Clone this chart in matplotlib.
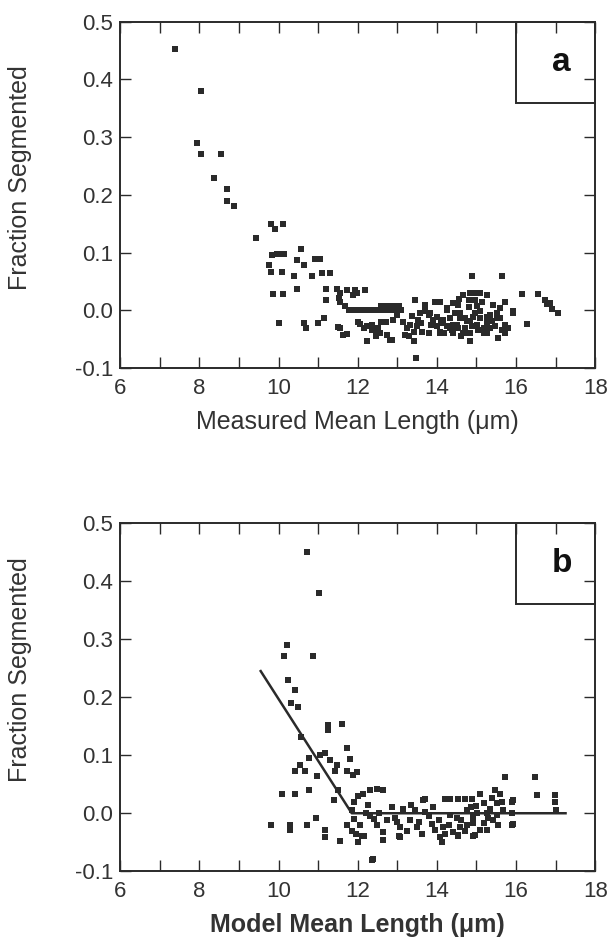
import matplotlib
matplotlib.use("Agg")
import matplotlib.pyplot as plt
from matplotlib.patches import Rectangle
from matplotlib.ticker import MultipleLocator

plt.rcParams['font.family'] = ['Liberation Sans', 'DejaVu Sans']

# ---------------- Panel a data (Measured mean length vs fraction segmented)
a_x = [7.38, 8.05, 7.94, 8.05, 8.55, 8.38, 8.71, 8.71, 8.87, 9.42,
       9.80, 9.91, 10.12, 10.57, 9.83, 9.95, 10.05, 10.15, 9.75, 9.80,
       10.08, 10.46, 10.65, 10.92, 11.05, 10.40, 10.84, 11.09, 11.29, 9.86,
       10.12, 10.46, 11.19, 11.19, 10.02, 10.65, 10.70, 11.00, 11.16,
       11.56, 11.72, 11.93, 12.19, 11.56, 11.68, 11.89, 11.98,
       11.77, 11.90, 12.05, 12.20, 12.35, 12.50, 12.65, 12.80, 12.95, 13.10,
       12.60, 12.75, 12.90, 13.05, 13.45, 13.95, 14.08,
       11.56, 11.73, 12.06, 12.23, 12.36, 12.52, 12.57, 12.23, 12.73, 12.86,
       12.99, 12.90, 13.20, 13.41, 13.41, 13.47, 13.36, 13.53, 13.32, 13.49,
       13.70, 13.83, 13.91, 13.62, 13.79, 14.00, 14.08, 14.25, 14.33, 14.42,
       14.25, 14.17, 14.54, 14.67, 14.84, 14.84, 14.59, 14.71, 14.84, 14.96,
       15.09, 15.26, 15.26, 15.51, 15.60, 15.72, 15.72, 15.64, 15.93, 16.27,
       16.77, 16.90, 17.07, 14.88, 15.64, 16.14, 16.56, 16.73, 16.86,
       14.67, 14.84, 14.96, 15.09, 15.26, 14.80, 14.96, 15.13, 14.42, 14.25,
       14.54, 15.43, 15.60, 15.72, 15.93, 13.70, 13.58, 13.79,
       14.00, 14.16, 14.33, 14.46, 14.59, 14.75, 14.92, 15.09, 15.26, 15.39,
       15.51, 14.33, 14.50, 14.71, 15.01, 15.34, 14.75, 14.42, 15.18, 14.08,
       12.00, 12.15, 12.35, 12.45, 12.60, 11.50, 11.62, 12.82, 11.47, 11.52,
       13.15, 13.25, 13.60, 13.85, 14.10, 14.38, 14.62, 14.88, 15.05, 15.20,
       15.35, 15.48, 15.02, 14.80, 14.55, 13.30, 12.72, 12.45, 15.80, 15.55]
a_y = [0.452, 0.380, 0.290, 0.271, 0.271, 0.230, 0.211, 0.189, 0.181, 0.126,
       0.149, 0.140, 0.149, 0.107, 0.096, 0.098, 0.098, 0.098, 0.079, 0.067,
       0.067, 0.088, 0.078, 0.089, 0.089, 0.059, 0.059, 0.064, 0.064, 0.029,
       0.029, 0.037, 0.037, 0.018, -0.022, -0.022, -0.031, -0.022, -0.014,
       0.030, 0.036, 0.036, 0.036, 0.015, 0.007, 0.027, 0.030,
       0.000, 0.000, 0.000, 0.000, 0.000, 0.000, 0.000, 0.000, 0.000, 0.000,
       0.008, 0.008, 0.008, 0.008, 0.017, 0.015, 0.015,
       -0.031, -0.041, -0.023, -0.028, -0.034, -0.031, -0.040, -0.054, -0.043, -0.052,
       -0.008, -0.016, -0.043, -0.037, -0.054, -0.083, -0.010, -0.016, -0.025, -0.028,
       0.010, -0.005, -0.016, -0.037, -0.040, -0.028, -0.037, 0.001, -0.014, -0.025,
       -0.028, -0.040, -0.031, -0.040, -0.040, -0.054, -0.005, -0.014, -0.019, -0.005,
       -0.014, -0.022, -0.040, -0.005, -0.014, -0.025, -0.040, -0.034, -0.005, -0.023,
       0.011, 0.002, -0.004, 0.059, 0.059, 0.028, 0.028, 0.018, 0.012,
       0.027, 0.030, 0.030, 0.030, 0.027, 0.018, 0.018, 0.015, 0.012, 0.004,
       0.010, 0.010, 0.004, 0.015, -0.002, -0.002, -0.005, -0.008,
       -0.011, -0.016, -0.014, -0.005, -0.014, -0.019, -0.011, -0.002, -0.011, -0.019,
       -0.014, -0.031, -0.025, -0.031, -0.025, -0.031, -0.040, -0.040, -0.040, -0.040,
       -0.020, -0.030, -0.025, -0.035, -0.020, -0.029, -0.042, -0.051, 0.037, 0.022,
       -0.020, -0.030, -0.022, -0.025, -0.022, -0.034, -0.045, -0.028, -0.034, -0.030,
       -0.008, -0.027, 0.008, 0.006, 0.020, -0.045, -0.020, -0.045, -0.030, -0.048]

# ---------------- Panel b data (Model mean length vs fraction segmented)
b_x = [10.71, 11.03, 10.21, 10.15, 10.87, 10.25, 10.42, 10.31, 10.48, 10.58,
       11.24, 11.24, 11.61, 11.73, 10.76, 11.05, 11.18, 10.54, 10.42, 10.67,
       10.97, 11.30, 11.47, 11.43, 11.73, 11.89, 11.81, 10.08, 10.42, 10.76,
       11.39, 11.51, 9.80, 10.29, 10.29, 10.71, 10.95, 11.18, 11.18, 11.56,
       11.73, 11.98, 12.48, 12.65, 12.14, 12.31, 12.38, 12.65,
       11.97, 12.00, 12.15,
       12.00, 11.90, 11.85, 11.90, 12.05, 11.95, 12.10, 11.85, 12.20, 12.30, 12.25,
       13.70, 12.86, 13.15, 13.45, 13.70, 14.21, 14.33, 14.54, 14.71, 14.88,
       12.36, 12.65, 13.07, 13.07, 13.32, 13.49, 13.62, 13.87, 13.95, 14.08,
       14.16, 14.12, 14.33, 14.50, 14.59, 14.42, 14.54, 14.92, 14.75, 14.92, 14.75,
       14.96, 14.54, 13.66,
       15.72, 16.48, 16.52, 16.98, 16.98, 17.00, 15.89, 15.89, 15.89, 15.68,
       14.92, 15.26, 15.47, 15.60, 15.39, 15.09, 15.18, 15.51, 15.01, 15.26,
       15.51, 14.92, 15.18, 15.43, 15.09, 15.93, 15.93, 12.40, 12.55, 13.00,
       12.75, 12.95, 13.25, 13.55, 13.80, 14.05, 14.30, 14.62, 14.85, 15.35,
       15.65, 12.50, 13.35, 13.90, 14.70, 15.00, 15.30, 15.55, 13.05, 14.20]
b_y = [0.451, 0.379, 0.290, 0.271, 0.271, 0.230, 0.212, 0.190, 0.183, 0.132,
       0.152, 0.144, 0.153, 0.112, 0.095, 0.100, 0.103, 0.083, 0.072, 0.072,
       0.064, 0.091, 0.083, 0.072, 0.072, 0.066, 0.094, 0.034, 0.034, 0.040,
       0.022, 0.040, -0.020, -0.021, -0.029, -0.021, -0.009, -0.029, -0.041, -0.047,
       -0.021, 0.071, 0.042, 0.040, 0.034, 0.040, -0.078, -0.046,
       -0.035, -0.050, -0.040,
       0.030, 0.020, 0.005, -0.010, -0.020, -0.035, -0.040, -0.030, 0.000, -0.005, 0.015,
       0.024, 0.011, 0.008, 0.005, 0.002, 0.024, 0.024, 0.024, 0.024, 0.024,
       -0.080, -0.032, -0.024, -0.041, -0.012, -0.024, -0.035, -0.018, -0.029, -0.041,
       -0.024, -0.049, -0.003, -0.009, -0.024, -0.032, -0.040, -0.040, 0.005, -0.006, -0.020,
       -0.038, -0.038, 0.022,
       0.063, 0.063, 0.032, 0.032, 0.020, 0.006, 0.020, 0.000, -0.020, 0.005,
       -0.040, -0.029, 0.040, 0.034, 0.026, 0.034, 0.017, 0.017, 0.000, 0.000,
       -0.003, -0.017, -0.017, -0.011, -0.029, 0.022, -0.018, -0.010, 0.000, -0.015,
       -0.012, -0.008, -0.030, -0.015, -0.005, -0.012, -0.020, -0.012, 0.010, 0.008,
       0.020, -0.020, 0.015, 0.010, -0.030, 0.012, -0.008, -0.020, -0.040, -0.035]

# fitted piecewise line in panel b
fit_x = [9.55, 11.85, 17.25]
fit_y = [0.245, 0.0, 0.0]

x_ticks = [6, 8, 10, 12, 14, 16, 18]
y_ticks = [-0.1, 0.0, 0.1, 0.2, 0.3, 0.4, 0.5]
panel_labels = ['a', 'b']
x_labels = ['Measured Mean Length (\u03bcm)', 'Model Mean Length (\u03bcm)']

ink = '#2a2a2a'
fig = plt.figure(figsize=(6.13, 9.46), dpi=100)
ax_a = fig.add_axes([0.196, 0.611, 0.775, 0.366])
ax_b = fig.add_axes([0.196, 0.079, 0.775, 0.368])

panels = [(ax_a, a_x, a_y), (ax_b, b_x, b_y)]
for i, (ax, xs, ys) in enumerate(panels):
    ax.plot(xs, ys, linestyle='none', marker='s', markersize=3.9,
            color=ink, markeredgewidth=0)
    if i == 1:
        ax.plot(fit_x, fit_y, color=ink, linewidth=1.8)
    ax.set_xlim(6, 18)
    ax.set_ylim(-0.1, 0.5)
    ax.set_xticks(x_ticks)
    ax.set_xticklabels([str(t) for t in x_ticks])
    ax.xaxis.set_minor_locator(MultipleLocator(1))
    ax.set_yticks(y_ticks)
    ax.set_yticklabels(['%.1f' % t for t in y_ticks])
    ax.tick_params(which='both', direction='in', top=True, right=True,
                   length=8, width=1.0, color=ink, labelsize=16,
                   labelcolor='#333333')
    ax.tick_params(axis='x', which='major', pad=7)
    ax.tick_params(axis='y', which='major', pad=5)
    for s in ax.spines.values():
        s.set_linewidth(1.4)
        s.set_color(ink)
    ax.add_patch(Rectangle((16, 0.36), 2, 0.14, fill=False, edgecolor=ink,
                           linewidth=1.4, clip_on=False))
    ax.text(17.15, 0.43, panel_labels[i], fontsize=24, fontweight='bold',
            ha='center', va='center', color='#111111')
    ax.set_ylabel('Fraction Segmented', fontsize=18, color='#333333')
    ax.set_xlabel(x_labels[i], fontsize=18,
                  fontweight='bold' if i == 1 else 'medium', color='#333333',
                  labelpad=8)

ax_a.yaxis.set_label_coords(-0.185, 0.55)
ax_b.yaxis.set_label_coords(-0.185, 0.58)
fig.savefig('out.png', dpi=100)
